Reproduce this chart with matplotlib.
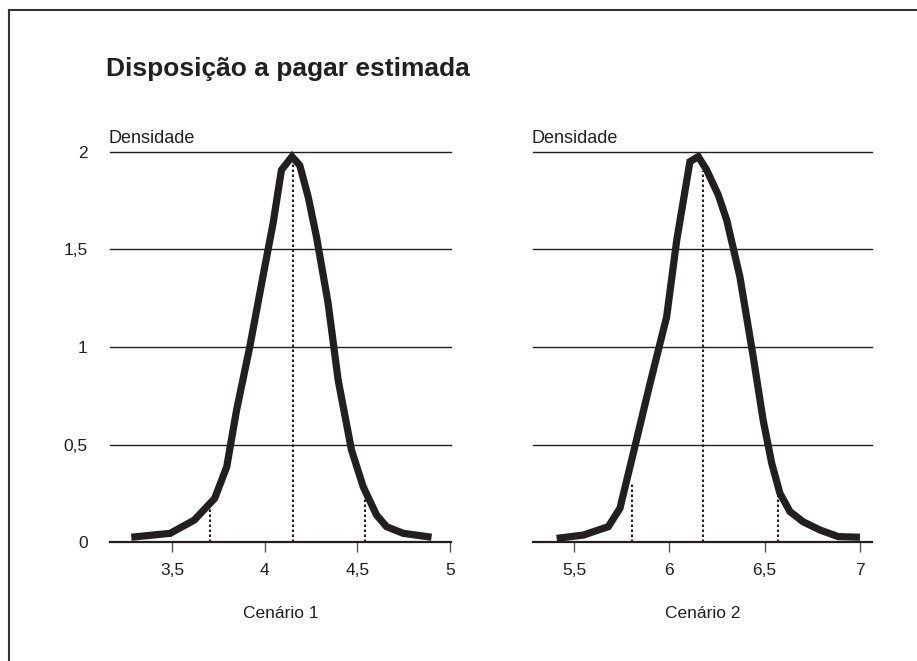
import matplotlib
matplotlib.use('Agg')
import matplotlib.pyplot as plt
from matplotlib.lines import Line2D

# densidade estimada - cenario 1
x1 = [3.28, 3.49, 3.62, 3.73, 3.795, 3.848, 3.919, 4.0, 4.045, 4.09, 4.147,
      4.189, 4.234, 4.279, 4.342, 4.396, 4.468, 4.531, 4.603, 4.657, 4.747, 4.90]
y1 = [0.026, 0.046, 0.114, 0.225, 0.387, 0.677, 1.0, 1.41, 1.633, 1.906, 1.975,
      1.93, 1.77, 1.565, 1.224, 0.831, 0.473, 0.285, 0.14, 0.08, 0.046, 0.026]

# densidade estimada - cenario 2
x2 = [5.409, 5.549, 5.68, 5.741, 5.811, 5.899, 5.986, 6.039, 6.108, 6.152,
      6.196, 6.257, 6.301, 6.37, 6.44, 6.492, 6.537, 6.58, 6.633, 6.702,
      6.79, 6.886, 7.0]
y2 = [0.02, 0.037, 0.08, 0.174, 0.456, 0.814, 1.155, 1.548, 1.949, 1.975,
      1.906, 1.778, 1.65, 1.36, 0.95, 0.626, 0.405, 0.251, 0.157, 0.105,
      0.063, 0.029, 0.026]

# linhas pontilhadas (percentis / mediana)
dot1_x = [3.707, 4.153, 4.54]
dot1_y = [0.19, 1.94, 0.24]
dot2_x = [5.803, 6.178, 6.571]
dot2_y = [0.31, 1.90, 0.24]

xticks1 = [3.5, 4, 4.5, 5]
xticks2 = [5.5, 6, 6.5, 7]
yticks = [0, 0.5, 1, 1.5, 2]

def fmt(v):
    s = ('%g' % v).replace('.', ',')
    return s

narrow = ['Liberation Sans Narrow', 'Liberation Sans', 'DejaVu Sans']
regular = ['Liberation Sans', 'DejaVu Sans']
ink = '#231f20'

fig = plt.figure(figsize=(9.17, 6.61), dpi=100)
W, H = 917, 661

# moldura (topo e esquerda)
fig.add_artist(Line2D([8.5 / W, 8.5 / W], [0, 1 - 10 / H], color='#333333',
                      lw=1.5, transform=fig.transFigure))
fig.add_artist(Line2D([8.5 / W, 1], [1 - 10 / H, 1 - 10 / H], color='#333333',
                      lw=1.5, transform=fig.transFigure))

fig.text(106 / W, 1 - 69 / H, 'Disposição a pagar estimada', fontsize=19,
         fontweight='bold', family=regular, color=ink, va='center', ha='left')

panels = [
    (110, 451, (3.165, 5.005), x1, y1, dot1_x, dot1_y, xticks1, 'Cenário 1', True),
    (533, 872, (5.285, 7.063), x2, y2, dot2_x, dot2_y, xticks2, 'Cenário 2', False),
]

bottom = (H - 542.3) / H
height = (542.3 - 151.7) / H

for x0, x1p, xl, xs, ys, dx, dy, xt, lab, showy in panels:
    ax = fig.add_axes([x0 / W, bottom, (x1p - x0) / W, height])
    ax.set_xlim(*xl)
    ax.set_ylim(0, 2)
    for g in [0.5, 1, 1.5, 2]:
        ax.axhline(g, color=ink, lw=1.0, zorder=1, clip_on=False)
    ax.vlines(dx, 0, dy, colors=ink, linestyles=(0, (1.2, 1.2)), lw=1.5, zorder=2)
    ax.plot(xs, ys, color=ink, lw=5.2, solid_joinstyle='miter',
            solid_capstyle='butt', zorder=3, clip_on=False)
    for s in ['top', 'right', 'left']:
        ax.spines[s].set_visible(False)
    ax.spines['bottom'].set_linewidth(1.6)
    ax.spines['bottom'].set_color(ink)
    ax.set_xticks(xt)
    ax.set_xticklabels([fmt(v) for v in xt], family=narrow, fontsize=12.5, color=ink)
    ax.tick_params(axis='x', direction='out', length=7, width=1.0, color='#555555', pad=8)
    ax.set_yticks(yticks)
    if showy:
        ax.set_yticklabels([fmt(v) for v in yticks], family=narrow, fontsize=12.5, color=ink)
        ax.tick_params(axis='y', length=0, pad=16)
    else:
        ax.set_yticklabels([])
        ax.tick_params(axis='y', length=0)
    ax.set_xlabel(lab, family=narrow, fontsize=12.5, color=ink, labelpad=20)
    ax.text(-0.005, 1.035, 'Densidade', transform=ax.transAxes, family=regular,
            fontsize=13, color=ink, ha='left', va='center')
    ax.patch.set_visible(False)

fig.savefig('out.png', dpi=100)
